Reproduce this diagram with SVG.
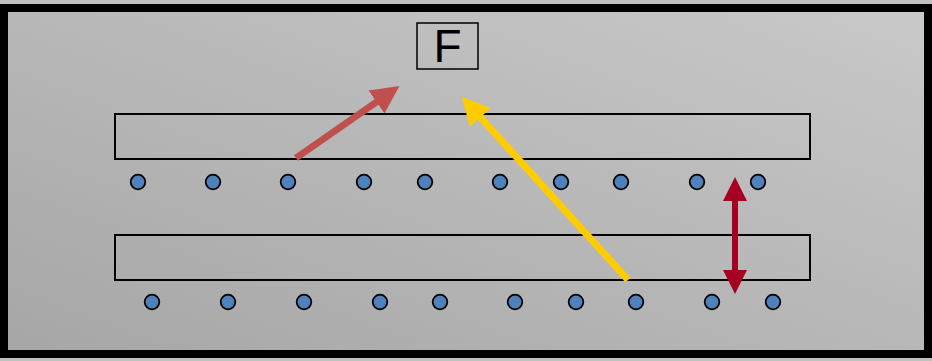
<svg xmlns="http://www.w3.org/2000/svg" width="932" height="361" viewBox="0 0 932 361">
<defs>
<linearGradient id="bg" x1="0" y1="1" x2="1" y2="0">
<stop offset="0" stop-color="#a6a6a6"/>
<stop offset="1" stop-color="#c9c9c9"/>
</linearGradient>
<marker id="hRed" viewBox="0 0 10 10" refX="5" refY="5" markerWidth="4" markerHeight="4" orient="auto" markerUnits="strokeWidth"><path d="M0,0 L10,5 L0,10 z" fill="#c0504d"/></marker>
<marker id="hYel" viewBox="0 0 10 10" refX="5" refY="5" markerWidth="4" markerHeight="4" orient="auto" markerUnits="strokeWidth"><path d="M0,0 L10,5 L0,10 z" fill="#ffcc00"/></marker>
<marker id="hDark" viewBox="0 0 10 10" refX="5" refY="5" markerWidth="4" markerHeight="4" orient="auto-start-reverse" markerUnits="strokeWidth"><path d="M0,0 L10,5 L0,10 z" fill="#a50021"/></marker>
</defs>
<style>
.bar{fill:none;stroke:#000;stroke-width:2}
.dot{fill:#4f81bd;stroke:#000;stroke-width:1.8}
</style>
<rect x="0" y="0" width="932" height="361" fill="#c0c0c0"/>
<rect x="4" y="8" width="924" height="346" fill="url(#bg)" stroke="#000" stroke-width="8"/>
<g id="force-box">
<rect x="417" y="23" width="61" height="46" fill="none" stroke="#000" stroke-width="1.5"/>
<text x="447.5" y="62" font-family="Liberation Sans, Arial, sans-serif" font-size="46" text-anchor="middle" fill="#000">F</text>
</g>
<g id="top-bar"><rect class="bar" x="115" y="114" width="695" height="45"/></g>
<g id="bottom-bar"><rect class="bar" x="115" y="235" width="695" height="45"/></g>
<g id="top-dots">
<circle class="dot" cx="138" cy="182" r="7.3"/>
<circle class="dot" cx="213" cy="182" r="7.3"/>
<circle class="dot" cx="288" cy="182" r="7.3"/>
<circle class="dot" cx="364" cy="182" r="7.3"/>
<circle class="dot" cx="425" cy="182" r="7.3"/>
<circle class="dot" cx="500" cy="182" r="7.3"/>
<circle class="dot" cx="561" cy="182" r="7.3"/>
<circle class="dot" cx="621" cy="182" r="7.3"/>
<circle class="dot" cx="697" cy="182" r="7.3"/>
<circle class="dot" cx="758" cy="182" r="7.3"/>
</g>
<g id="bottom-dots">
<circle class="dot" cx="152" cy="302" r="7.3"/>
<circle class="dot" cx="228" cy="302" r="7.3"/>
<circle class="dot" cx="304" cy="302" r="7.3"/>
<circle class="dot" cx="380" cy="302" r="7.3"/>
<circle class="dot" cx="440" cy="302" r="7.3"/>
<circle class="dot" cx="515" cy="302" r="7.3"/>
<circle class="dot" cx="576" cy="302" r="7.3"/>
<circle class="dot" cx="636" cy="302" r="7.3"/>
<circle class="dot" cx="712" cy="302" r="7.3"/>
<circle class="dot" cx="773" cy="302" r="7.3"/>
</g>
<g id="connectors">
<line x1="296" y1="158" x2="388" y2="94" stroke="#c0504d" stroke-width="7" marker-end="url(#hRed)"/>
<line x1="628" y1="280" x2="471" y2="107" stroke="#ffcc00" stroke-width="7" marker-end="url(#hYel)"/>
<line x1="735" y1="189" x2="735" y2="282" stroke="#a50021" stroke-width="6" marker-start="url(#hDark)" marker-end="url(#hDark)"/>
</g>
</svg>
